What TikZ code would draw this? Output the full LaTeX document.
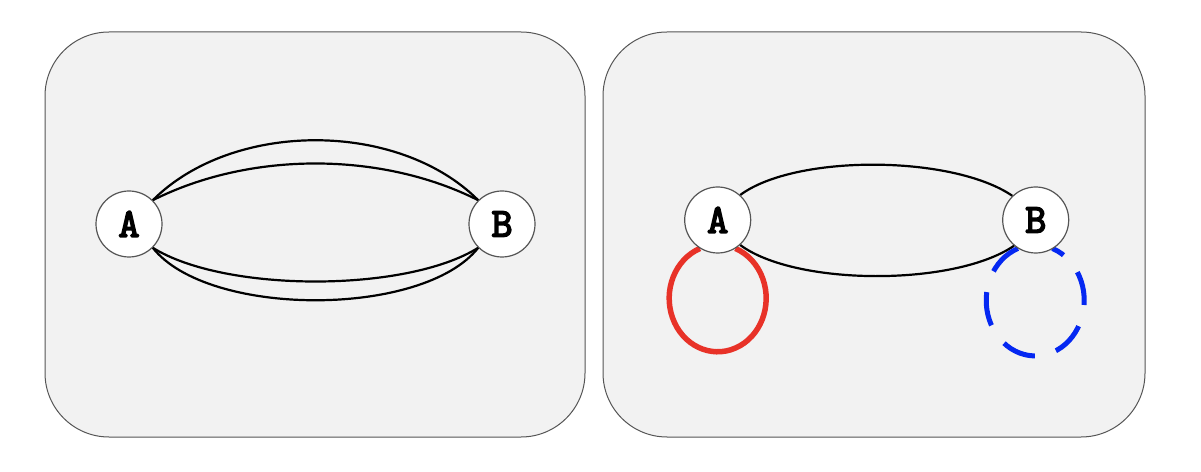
\documentclass[tikz,border=0pt]{standalone}
\usepackage{fontspec}
\newfontfamily\vtxfont{Latin Modern Mono}[FakeBold=4]
\definecolor{panelbg}{RGB}{242,242,242}
\definecolor{bordergray}{RGB}{85,85,85}
\definecolor{loopred}{RGB}{232,50,40}
\definecolor{loopblue}{RGB}{5,40,242}
\pgfdeclarelayer{back}
\pgfdeclarelayer{edges}
\pgfsetlayers{back,edges,main}
\begin{document}
\begin{tikzpicture}[x=1pt,y=1pt,
  panel/.style={fill=panelbg, draw=bordergray, line width=1pt, rounded corners=64pt},
  vtx/.style={circle, fill=white, draw=bordergray, line width=1.2pt, minimum size=66pt, inner sep=0pt,
    font=\fontsize{41}{41}\selectfont\vtxfont},
  edgeline/.style={line width=2.2pt, draw=black},
  redloop/.style={line width=5.5pt, draw=loopred},
  blueloop/.style={line width=5pt, draw=loopblue, dash pattern=on 34pt off 22pt}]
\useasboundingbox (0,0) rectangle (1201,471);
% nodes
\node[vtx] (A1) at (129,247) {A};
\node[vtx] (B1) at (502,247) {B};
\node[vtx] (A2) at (717.7,251) {A};
\node[vtx] (B2) at (1035.7,251) {B};
\begin{pgfonlayer}{back}
  \draw[panel] (45,34) rectangle (585,439);
  \draw[panel] (603,34) rectangle (1145,439);
\end{pgfonlayer}
\begin{pgfonlayer}{edges}
  % left panel: four parallel edges
  \draw[edgeline] (A1.45) .. controls +(80,80) and +(-80,80) .. (B1.135);
  \draw[edgeline] (A1.45) .. controls +(97,49) and +(-97,49) .. (B1.135);
  \draw[edgeline] (A1.-45) .. controls +(72,-45) and +(-72,-45) .. (B1.-135);
  \draw[edgeline] (A1.-45) .. controls +(55,-70) and +(-55,-70) .. (B1.-135);
  % right panel
  \draw[edgeline] (A2.48) .. controls +(55,41) and +(-60,41) .. (B2.134);
  \draw[edgeline] (A2.-48) .. controls +(55,-41) and +(-60,-41) .. (B2.-130);
  \draw[redloop] (A2.238) arc[start angle=111.5, end angle=428.5, x radius=48.5, y radius=53.5];
  \draw[blueloop] (B2.238) arc[start angle=110.7, end angle=429.3, x radius=49, y radius=55.5];
\end{pgfonlayer}
\end{tikzpicture}
\end{document}
